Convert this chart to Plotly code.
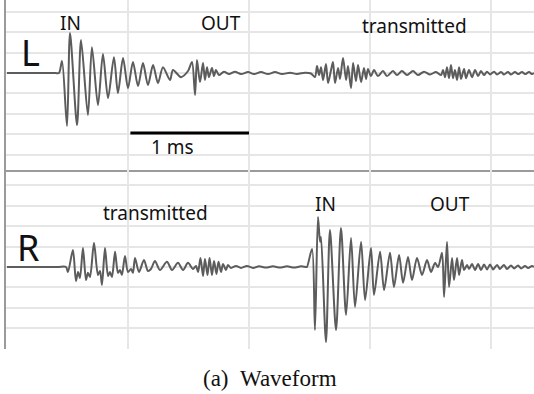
import plotly.graph_objects as go

# ---- data: left channel (L) waveform, time in ms, amplitude in grid units
t_L = [0, 0.200, 0.400, 0.430, 0.455, 0.496, 0.521, 0.579, 0.612, 0.669, 0.702, 0.752, 0.793, 0.835,
       0.884, 0.917, 0.959, 1.000, 1.041, 1.083, 1.124, 1.165, 1.207, 1.248, 1.289, 1.347,
       1.372, 1.438, 1.496, 1.529, 1.554, 1.570, 1.595, 1.620, 1.636, 1.653, 1.669, 1.694,
       1.711, 1.727, 1.752,
       1.793, 1.835, 1.884, 1.934, 1.992, 2.041, 2.099, 2.157, 2.215, 2.273, 2.339, 2.397,
       2.463, 2.512,
       2.545, 2.562, 2.579, 2.595, 2.612, 2.636, 2.653, 2.678, 2.694, 2.711, 2.736, 2.752,
       2.777, 2.802, 2.818, 2.843, 2.860, 2.884, 2.901, 2.926, 2.950, 2.967, 2.983, 3.008,
       3.033, 3.066, 3.107, 3.140, 3.190, 3.223, 3.264, 3.306, 3.355, 3.397, 3.446, 3.496,
       3.545, 3.587,
       3.603, 3.620, 3.636, 3.653, 3.669, 3.686, 3.702, 3.719, 3.736, 3.752, 3.777, 3.793,
       3.818, 3.843, 3.868, 3.893, 3.917, 3.942,
       3.967, 3.992, 4.025, 4.050, 4.083, 4.107, 4.140, 4.165, 4.198, 4.223, 4.256, 4.281,
       4.314, 4.339, 4.355]
a_L = [0, 0, 0, 0, 0.59, -2.60, 1.96, -2.55, 1.62, -2.06, 1.27, -1.57, 0.93, -1.23,
       0.78, -0.98, 0.74, -0.74, 0.54, -0.64, 0.49, -0.59, 0.39, -0.49, 0.29, -0.34,
       0.15, -0.20, 0.10, 0.54, -1.08, 0.64, -0.44, 0.49, -0.34, 0.29, -0.20, 0.25,
       -0.15, 0.15, -0.10,
       0.07, -0.05, 0.07, -0.05, 0.05, -0.05, 0.05, -0.05, 0.05, -0.05, 0.02, -0.05,
       0.02, -0.02,
       -0.20, 0.34, -0.10, 0.29, -0.34, 0.44, -0.49, 0.15, 0.54, -0.49, 0.25, -0.29,
       0.74, -0.34, 0.34, -0.74, 0.49, -0.39, 0.39, -0.44, 0.25, -0.29, 0.20, -0.15,
       0.15, -0.15, 0.10, -0.15, 0.10, -0.10, 0.10, -0.10, 0.10, -0.10, 0.07, -0.07,
       0.05, -0.10,
       0.15, -0.20, 0.29, -0.25, 0.39, -0.25, 0.15, -0.34, 0.29, -0.29, 0.20, -0.25,
       0.15, -0.20, 0.15, -0.15, 0.10, -0.10,
       0.07, -0.07, 0.07, -0.07, 0.05, -0.07, 0.05, -0.07, 0.05, -0.05, 0.05, -0.05,
       0.05, -0.05, 0]

# ---- data: right channel (R) waveform
t_R = [0, 0.200, 0.420, 0.488, 0.504, 0.545, 0.570, 0.587, 0.603, 0.628, 0.653, 0.669, 0.686, 0.719,
       0.752, 0.769, 0.785, 0.810, 0.835, 0.851, 0.868, 0.893, 0.917, 0.934, 0.950, 0.975,
       1.000, 1.025, 1.041, 1.058, 1.091, 1.132, 1.165, 1.190, 1.223, 1.264, 1.322, 1.364,
       1.413, 1.455, 1.496, 1.537,
       1.562, 1.579, 1.599, 1.620, 1.636, 1.657, 1.674, 1.694, 1.711, 1.731, 1.748, 1.769,
       1.785, 1.810, 1.826, 1.851,
       1.893, 1.934, 1.983, 2.033, 2.083, 2.140, 2.198, 2.256, 2.314, 2.372, 2.430, 2.471,
       2.479, 2.521, 2.545, 2.570, 2.587, 2.595, 2.636, 2.669, 2.719, 2.760, 2.802, 2.843,
       2.876, 2.926, 2.959, 3.008, 3.033, 3.083, 3.116, 3.165, 3.198, 3.240, 3.273, 3.314,
       3.347, 3.388, 3.430, 3.471, 3.504, 3.537, 3.562,
       3.595, 3.612, 3.636, 3.653, 3.678, 3.694, 3.719, 3.736, 3.760, 3.777, 3.802, 3.818,
       3.843, 3.868, 3.893, 3.917, 3.942, 3.967, 3.992, 4.017, 4.050, 4.074, 4.107, 4.132,
       4.165, 4.190, 4.223, 4.248, 4.281, 4.306, 4.339, 4.355]
a_R = [0, 0, 0, 0, -0.25, 0.83, -0.69, -0.25, -0.54, 0.93, -0.64, -0.29, -0.49, 1.18,
       -0.39, -0.20, -0.88, 0.93, -0.44, -0.25, -0.49, 0.74, -0.29, -0.15, -0.39, 0.54,
       -0.25, -0.10, -0.29, 0.44, -0.25, 0.34, -0.20, -0.10, 0.29, -0.15, 0.25, -0.15,
       0.20, -0.15, 0.20, -0.10,
       0.05, -0.25, 0.44, -0.44, 0.39, -0.39, 0.44, -0.39, 0.29, -0.34, 0.25, -0.25,
       0.15, -0.15, 0.10, -0.05,
       0.05, -0.05, 0.05, -0.05, 0.03, -0.03, 0.03, -0.03, 0.03, -0.03, 0.03, 0,
       0, 0.88, -3.09, 2.45, 1.23, 1.47, -3.68, 1.81, -3.09, 1.91, -2.35, 1.42,
       -1.96, 1.23, -1.62, 0.93, -1.37, 0.74, -1.13, 0.69, -0.98, 0.59, -0.78, 0.49,
       -0.64, 0.44, -0.39, 0.34, -0.25, 0.20, 0,
       0.69, -1.47, 1.23, -0.98, 0.44, -0.64, 0.44, -0.39, 0.34, -0.15, 0.10, -0.10,
       0.15, -0.15, 0.15, -0.15, 0.12, -0.12, 0.12, -0.12, 0.10, -0.10, 0.10, -0.10,
       0.07, -0.07, 0.07, -0.07, 0.05, -0.05, 0.05, 0]

# ---- scale bar (1 ms) on the L panel
scale_bar_t = [1.02, 2.0]
scale_bar_a = [-2.94, -2.94]

W, H = 534, 394
ML, MB = 6, 45
plot_h = H - MB
split = 179 / plot_h  # domain boundary between panels

fig = go.Figure()
wave_style = dict(color="#5c5c5c", width=2, shape="spline", smoothing=0.8)
fig.add_trace(go.Scatter(x=t_L, y=a_L, mode="lines", line=wave_style,
                         xaxis="x", yaxis="y", hoverinfo="skip"))
fig.add_trace(go.Scatter(x=t_R, y=a_R, mode="lines", line=wave_style,
                         xaxis="x2", yaxis="y2", hoverinfo="skip"))
fig.add_trace(go.Scatter(x=scale_bar_t, y=scale_bar_a, mode="lines",
                         line=dict(color="#000000", width=3),
                         xaxis="x", yaxis="y", hoverinfo="skip"))

grid = "#e6e6e6"
axis_line = "#9a9a9a"
xr = [-0.008, 4.355]
common_x = dict(range=xr, dtick=1, tick0=0, showticklabels=False, ticks="",
                showgrid=True, gridcolor=grid, gridwidth=2, zeroline=False)
common_y = dict(dtick=1, tick0=0, showticklabels=False, ticks="",
                showgrid=True, gridcolor=grid, gridwidth=2, zeroline=False,
                showline=True, linecolor=axis_line, linewidth=1.5)

fig.update_layout(
    width=W, height=H,
    margin=dict(l=ML, r=0, t=0, b=MB),
    paper_bgcolor="white", plot_bgcolor="white",
    showlegend=False,
    xaxis=dict(common_x, domain=[0, 1], anchor="y", showline=True,
               linecolor=axis_line, linewidth=1.5),
    yaxis=dict(common_y, domain=[split, 1], range=[-4.75, 3.58], anchor="x"),
    xaxis2=dict(common_x, domain=[0, 1], anchor="y2", showline=False),
    yaxis2=dict(common_y, domain=[0, split], range=[-4.02, 4.75], anchor="x2"),
)

label_font = dict(family="Noto Sans, Open Sans, sans-serif", size=19, color="#111111")
big_font = dict(family="Noto Sans, Open Sans, sans-serif", size=36, color="#111111")


def px_to_paper(px, py):
    return (px - ML) / (W - ML), 1 - py / plot_h


def add_text(text, px, py, font):
    x, y = px_to_paper(px, py)
    fig.add_annotation(text=text, x=x, y=y, xref="paper", yref="paper",
                       showarrow=False, font=font, xanchor="center", yanchor="middle")


add_text("IN", 70.5, 23, label_font)
add_text("OUT", 220.5, 23, label_font)
add_text("transmitted", 414, 26, label_font)
add_text("L", 30, 52, big_font)
add_text("1 ms", 172, 147, label_font)
add_text("transmitted", 155, 213, label_font)
add_text("R", 28, 247, big_font)
add_text("IN", 325, 204, label_font)
add_text("OUT", 450, 204, label_font)
add_text("(a)\u00a0\u00a0Waveform", 270, 378,
         dict(family="Liberation Serif, Times New Roman, serif", size=23, color="#111111"))

fig.write_html("out.html")
